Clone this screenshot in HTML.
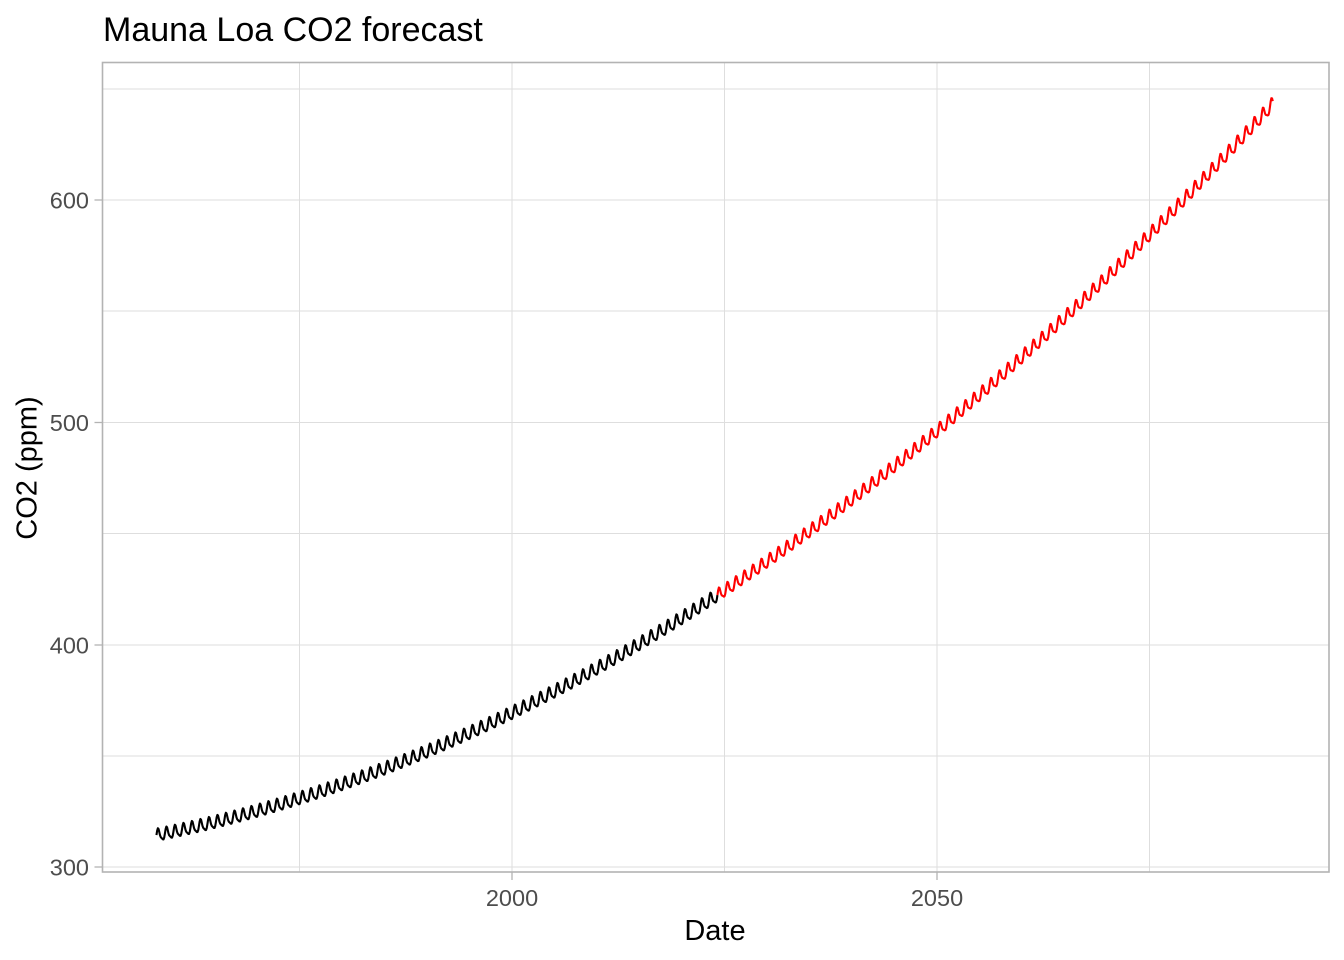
<!DOCTYPE html>
<html>
<head>
<meta charset="utf-8">
<style>
  html, body { margin: 0; padding: 0; background: #ffffff; }
  svg { display: block; }
  text { font-family: "Liberation Sans", Arial, sans-serif; }
</style>
</head>
<body>
<svg id="chart" width="1344" height="960" viewBox="0 0 1344 960" xmlns="http://www.w3.org/2000/svg">
  <rect x="0" y="0" width="1344" height="960" fill="#ffffff"/>
  <!-- grid -->
  <g stroke="#DEDEDE" stroke-width="1" fill="none">
    <line x1="102.5" x2="1329" y1="89" y2="89"/>
    <line x1="102.5" x2="1329" y1="200" y2="200"/>
    <line x1="102.5" x2="1329" y1="311" y2="311"/>
    <line x1="102.5" x2="1329" y1="422.5" y2="422.5"/>
    <line x1="102.5" x2="1329" y1="533.5" y2="533.5"/>
    <line x1="102.5" x2="1329" y1="645" y2="645"/>
    <line x1="102.5" x2="1329" y1="756" y2="756"/>
    <line x1="102.5" x2="1329" y1="867" y2="867"/>
    <line x1="299.5" x2="299.5" y1="62" y2="872"/>
    <line x1="512" x2="512" y1="62" y2="872"/>
    <line x1="724.5" x2="724.5" y1="62" y2="872"/>
    <line x1="937" x2="937" y1="62" y2="872"/>
    <line x1="1149.5" x2="1149.5" y1="62" y2="872"/>
  </g>
  <!-- series -->
  <path id="obs" d="" fill="none" stroke="#000000" stroke-width="2.1" stroke-linejoin="round"/>
  <path id="fc" d="" fill="none" stroke="#FF0000" stroke-width="2.1" stroke-linejoin="round"/>
  <!-- panel border -->
  <rect x="102.5" y="62.5" width="1226.5" height="809.5" fill="none" stroke="#B3B3B3" stroke-width="1.6"/>
  <!-- ticks -->
  <g stroke="#B3B3B3" stroke-width="1.3">
    <line x1="94.5" x2="102" y1="200" y2="200"/>
    <line x1="94.5" x2="102" y1="422.5" y2="422.5"/>
    <line x1="94.5" x2="102" y1="645" y2="645"/>
    <line x1="94.5" x2="102" y1="867" y2="867"/>
    <line x1="512" x2="512" y1="872" y2="880"/>
    <line x1="937" x2="937" y1="872" y2="880"/>
  </g>
  <!-- tick labels -->
  <g fill="#4D4D4D" font-size="23.5" text-anchor="end">
    <text x="89" y="208.5">600</text>
    <text x="89" y="431">500</text>
    <text x="89" y="653.5">400</text>
    <text x="89" y="875.5">300</text>
  </g>
  <g fill="#4D4D4D" font-size="23.5" text-anchor="middle">
    <text x="512" y="906">2000</text>
    <text x="937" y="906">2050</text>
  </g>
  <!-- axis titles -->
  <text x="715" y="940" font-size="29" text-anchor="middle" fill="#000000">Date</text>
  <text transform="translate(36.5,468) rotate(-90)" font-size="29" text-anchor="middle" fill="#000000">CO2 (ppm)</text>
  <!-- title -->
  <text x="103" y="41" font-size="34" fill="#000000">Mauna Loa CO2 forecast</text>
</svg>
<script>
(function(){
  function X(t){ return 512 + (t-2000)*8.5; }
  function Y(v){ return 867 - (v-300)*2.2233; }
  function trend(t){ var d=t-2000; return 369 + 1.87*d + 0.0133*d*d; }
  function seas(t, amp){
    var f = t - Math.floor(t);
    return amp*(2.6*Math.cos(2*Math.PI*(f-0.38)) + 0.75*Math.cos(4*Math.PI*(f-0.33)));
  }
  function build(t0, t1, amp){
    var d = "";
    var n = Math.round((t1-t0)*12);
    for (var i=0;i<=n;i++){
      var t = t0 + i/12;
      var grow = 1 + 0.0012*(t-1958);
      var v = trend(t) + seas(t, amp*grow);
      d += (i===0?"M":"L") + X(t).toFixed(2) + "," + Y(v).toFixed(2);
    }
    return d;
  }
  document.getElementById("obs").setAttribute("d", build(1958.17, 2024.17, 1.0));
  document.getElementById("fc").setAttribute("d", build(2024.17, 2089.5, 0.95));
})();
</script>
</body>
</html>
